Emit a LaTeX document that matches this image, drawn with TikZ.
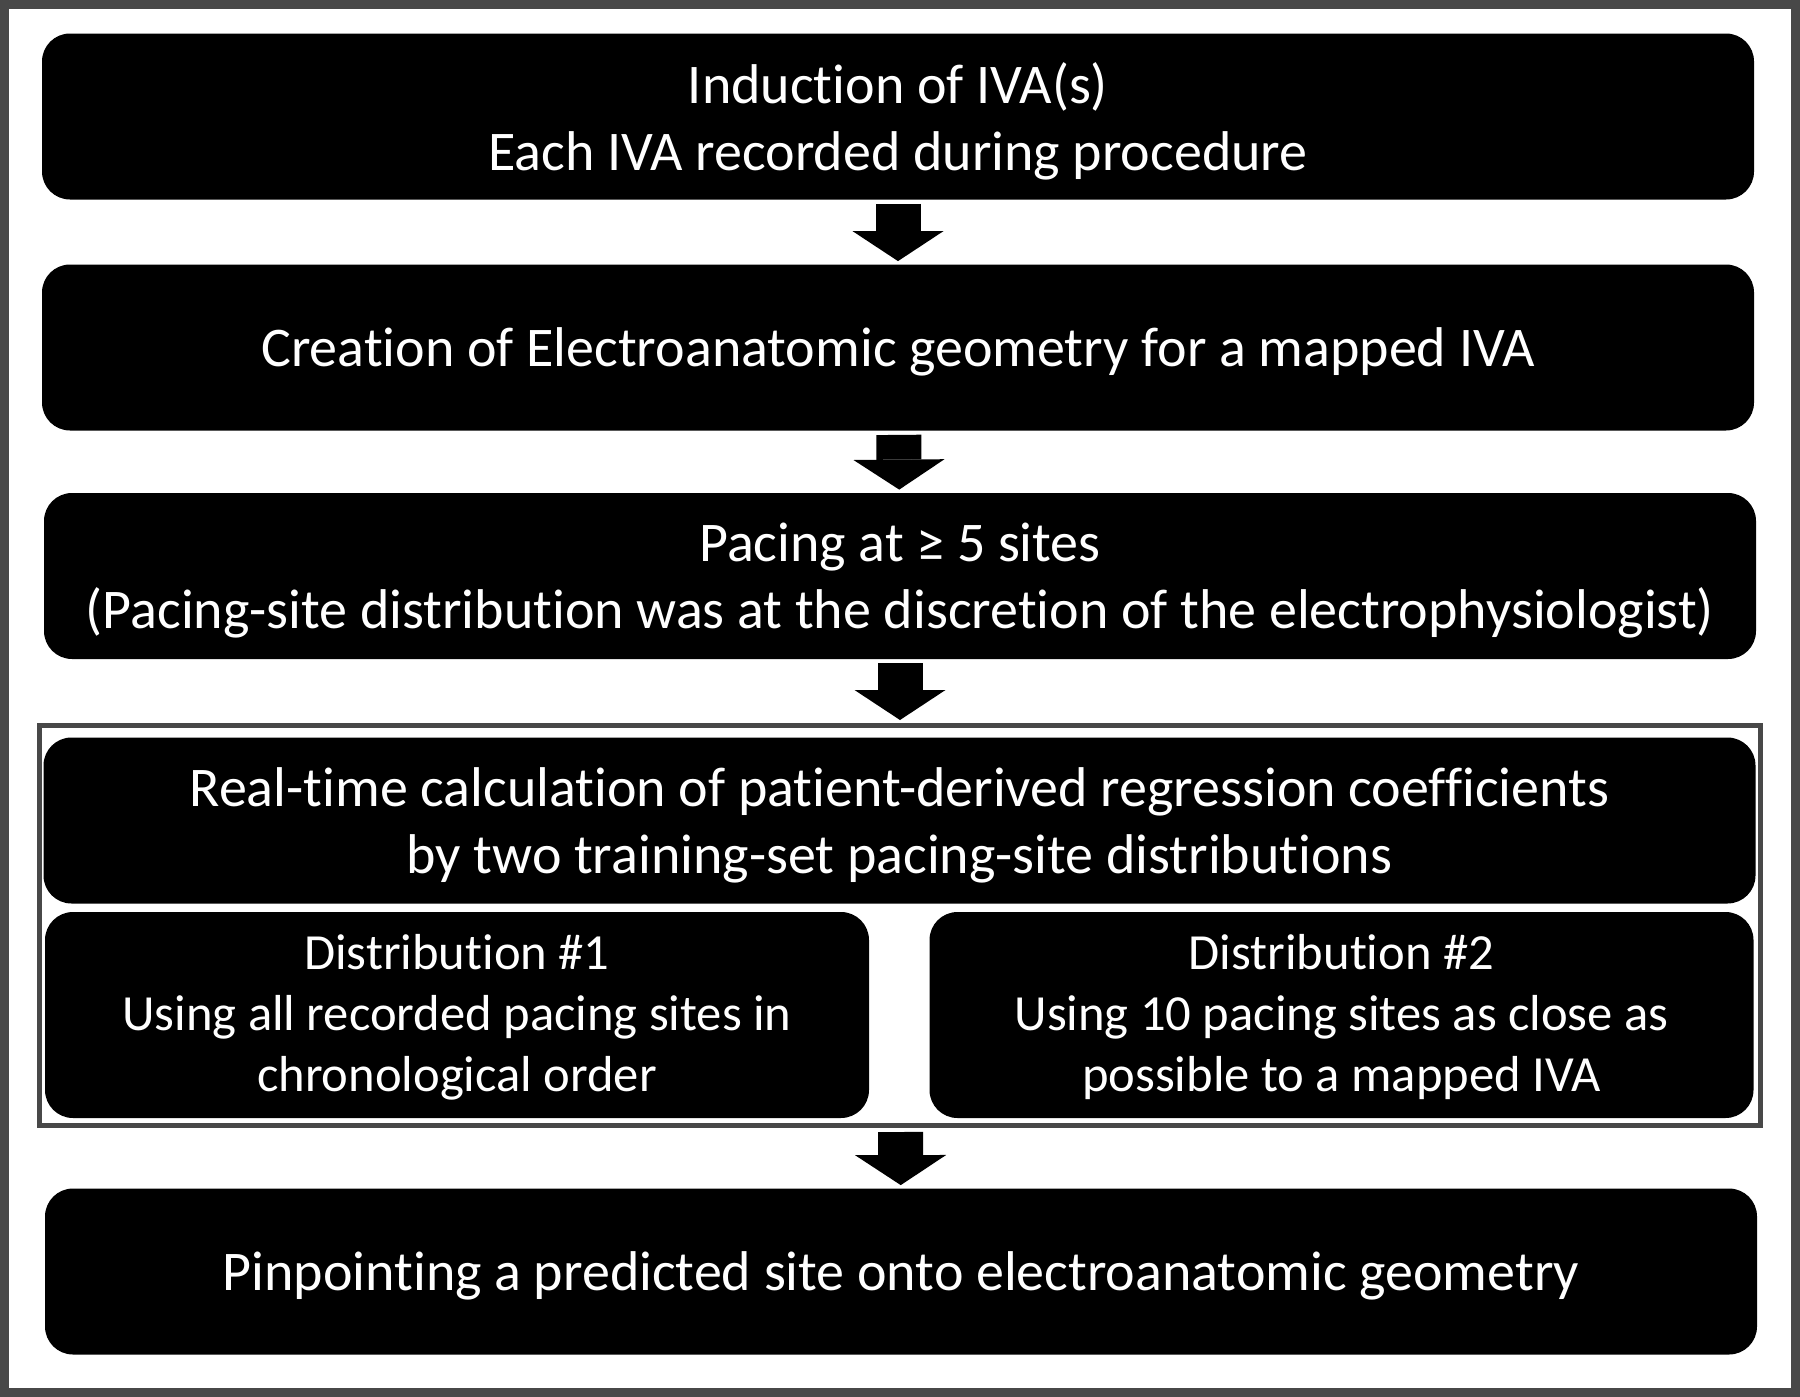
\documentclass[tikz,border=0pt]{standalone}
\usepackage{fontspec}
\setmainfont{Carlito}[Ligatures=NoCommon]
\usetikzlibrary{arrows.meta}

\definecolor{framegray}{RGB}{72,72,72}

\begin{document}
\begin{tikzpicture}[x=0.5pt,y=-0.5pt,
  main node/.style={rectangle,rounded corners=14pt,fill=black,text=white,
    align=center,minimum width=856pt,minimum height=83pt,inner sep=0pt,
    text depth=0pt,font=\fontsize{28pt}{33.5pt}\selectfont},
  sub node/.style={main node,minimum width=412pt,minimum height=103pt,
    text depth=2pt,font=\fontsize{25.3pt}{30.5pt}\selectfont},
  group node/.style={rectangle,draw=framegray,line width=2.5pt,
    minimum width=860.5pt,minimum height=200pt,inner sep=0pt},
  block arrow/.style={line width=22.5pt,
    -{Triangle[width=45.5pt,length=15pt,line width=0pt]},
    shorten <=2pt,shorten >=1.5pt}]

  \useasboundingbox (0,0) rectangle (1800,1397);
  \draw[framegray,line width=4.5pt] (4.5,4.5) rectangle (1795.5,1392.5);

  \node[main node] (induction) at (898,116.5)
    {Induction of IVA(s)\\Each IVA recorded during procedure};
  \node[main node] (geometry) at (898,347.5)
    {Creation of Electroanatomic geometry for a mapped IVA};
  \node[main node] (pacing) at (900,576)
    {Pacing at ≥ 5 sites\\(Pacing-site distribution was at the discretion of the electrophysiologist)};
  \node[group node] (training) at (900,925.5) {};
  \node[main node] (realtime) at (899.5,820.5)
    {Real-time calculation of patient-derived regression coefficients\\by two training-set pacing-site distributions};
  \node[sub node] (distA) at (457,1015)
    {Distribution \#1\\Using all recorded pacing sites in\\chronological order};
  \node[sub node] (distB) at (1341.5,1015)
    {Distribution \#2\\Using 10 pacing sites as close as\\possible to a mapped IVA};
  \node[main node] (pinpoint) at (901,1271.5)
    {Pinpointing a predicted site onto electroanatomic geometry};

  \path[block arrow]
    (induction) edge (geometry)
    (geometry) edge (pacing)
    (pacing) edge (training)
    (training) edge (pinpoint)
    ;

\end{tikzpicture}
\end{document}
